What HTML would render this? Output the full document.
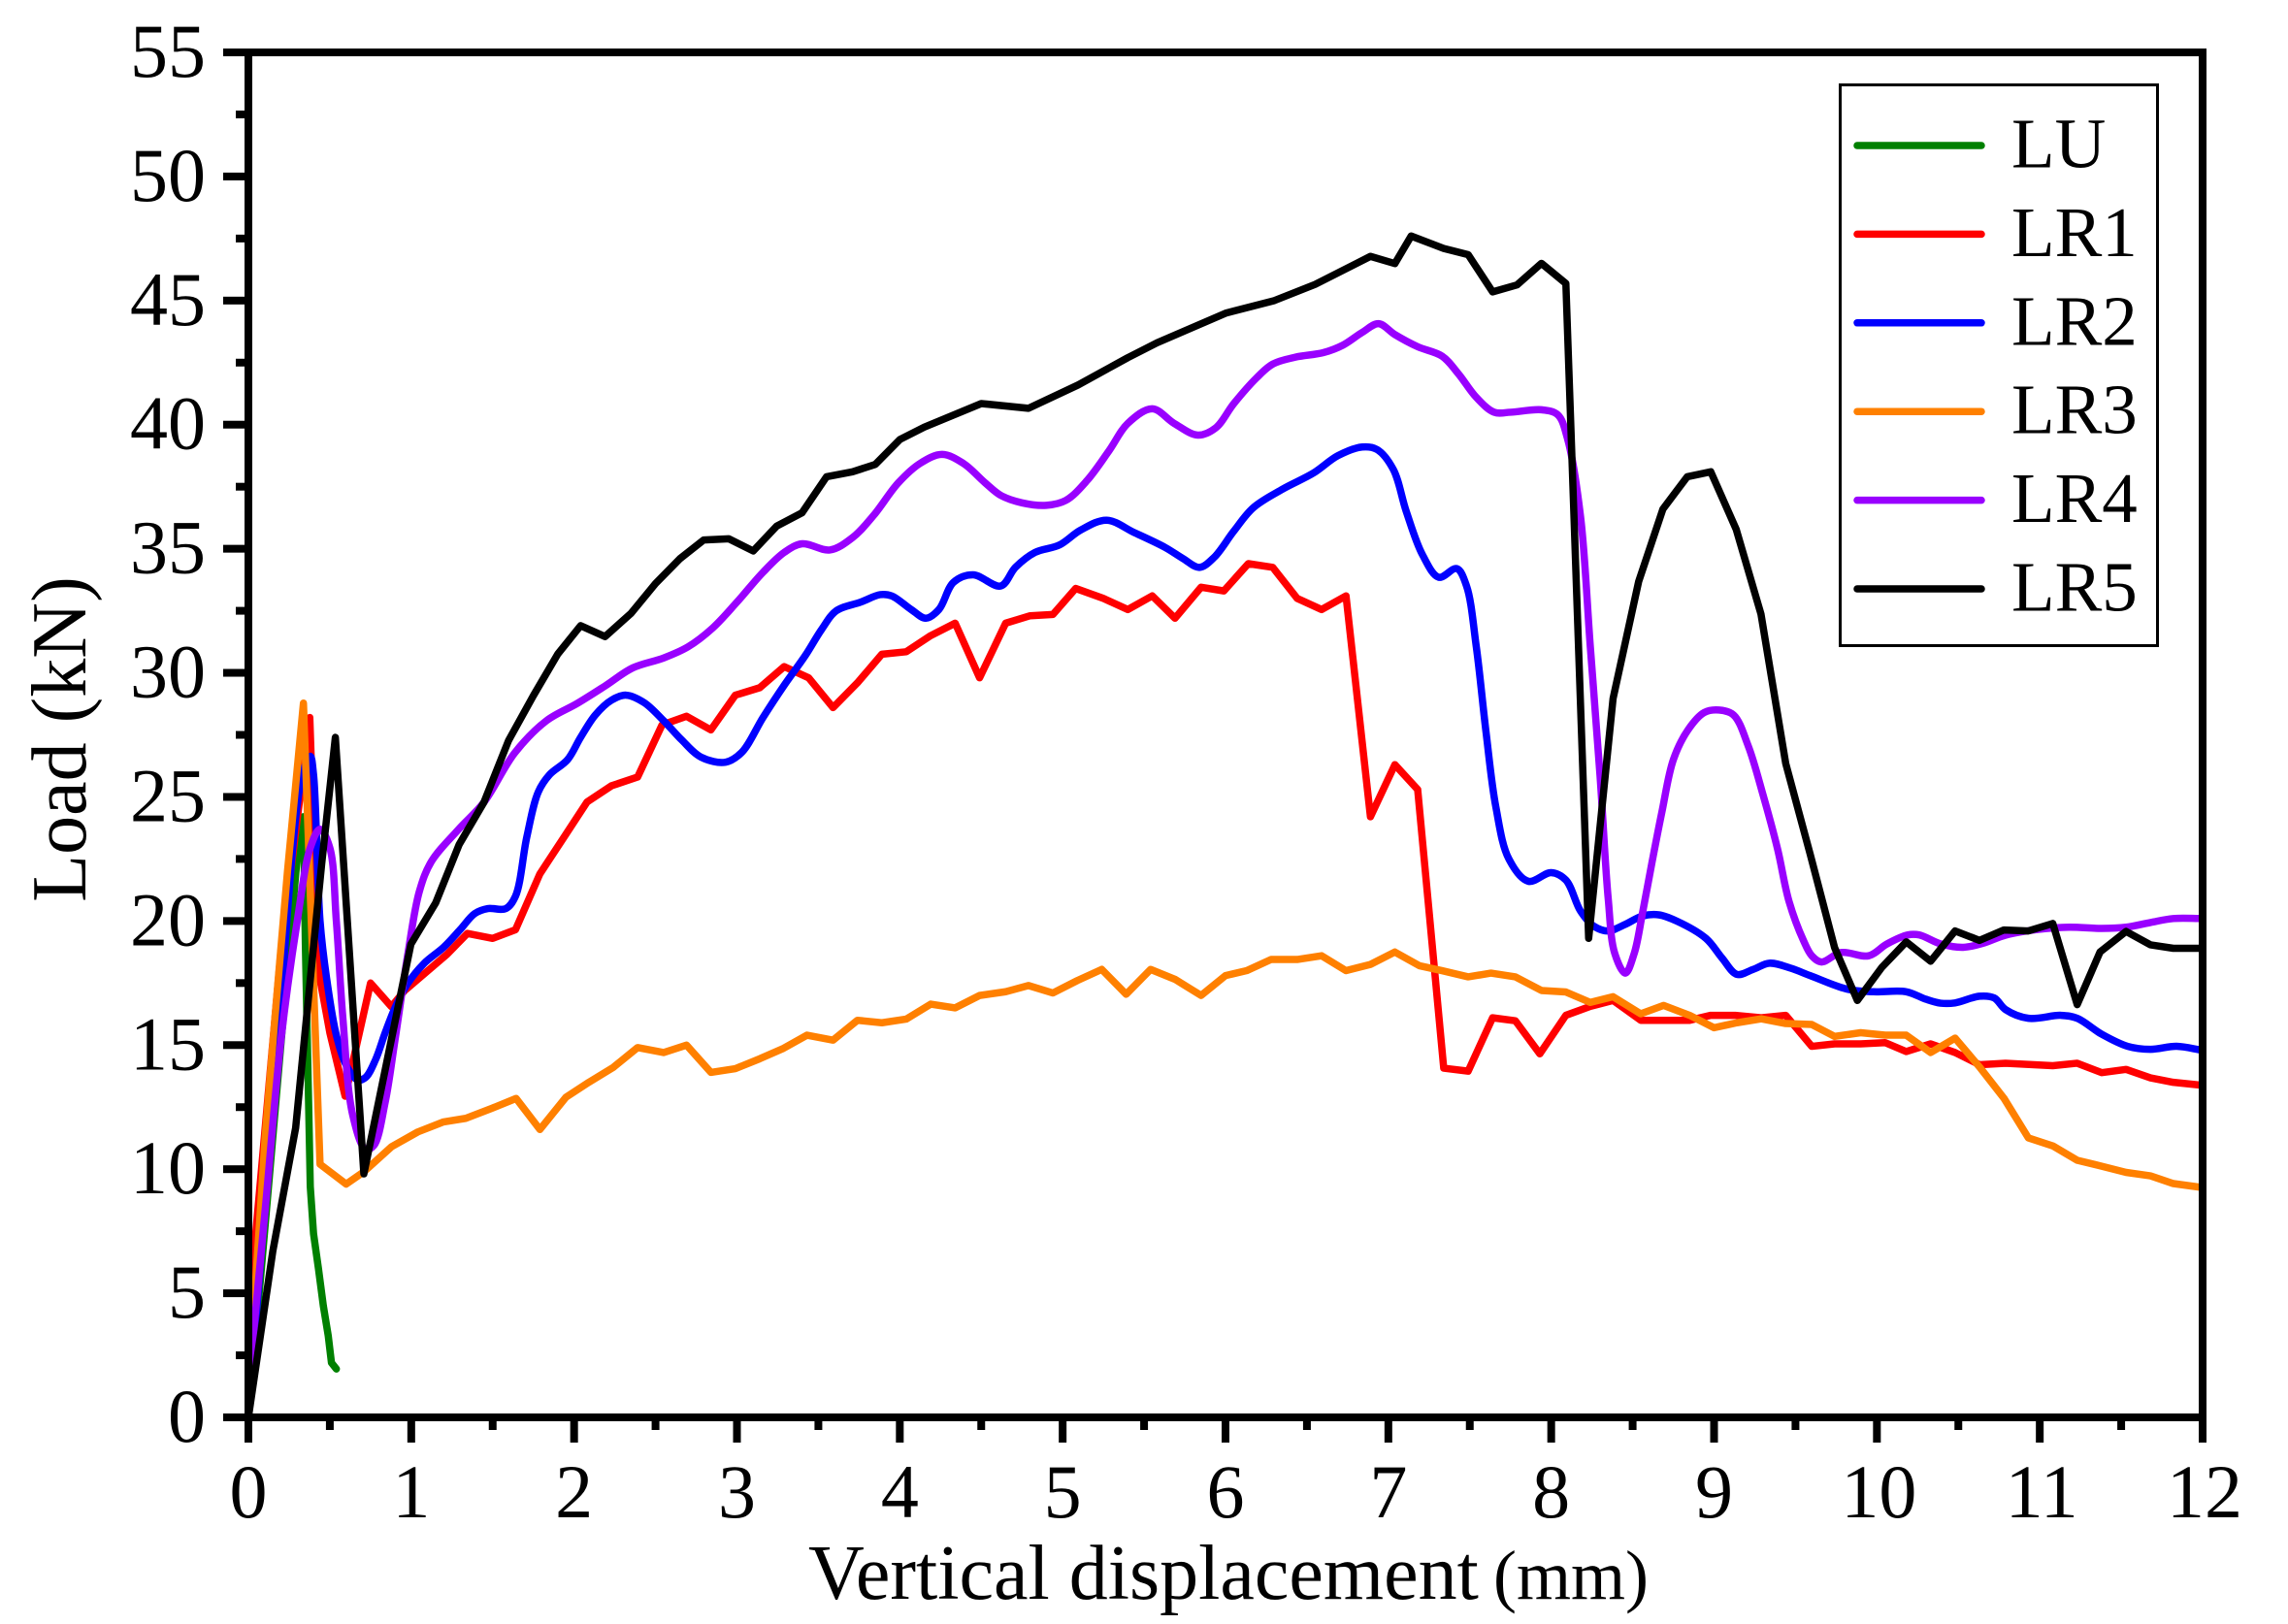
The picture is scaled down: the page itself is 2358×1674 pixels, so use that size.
<!DOCTYPE html>
<html lang="en">
<head>
<meta charset="utf-8">
<title>Load vs vertical displacement</title>
<style>
html,body{margin:0;padding:0;background:#fff;}
svg{display:block;}
text{font-family:"Liberation Serif",serif;fill:#000;}
</style>
</head>
<body>
<svg id="chart" xmlns="http://www.w3.org/2000/svg" width="2358" height="1674" viewBox="0 0 2358 1674">
  <rect x="0" y="0" width="2358" height="1674" fill="#fff"/>
  <g id="series"></g>
  <g id="axes"></g>
  <text y="1648" font-size="80"><tspan x="833">Vertical displacement</tspan><tspan x="1539" font-size="72">(mm)</tspan></text>
  <text transform="translate(88,762) rotate(-90)" text-anchor="middle" font-size="80">Load (kN)</text>
  <g id="legend">
    <rect x="1896.5" y="87.5" width="327" height="578" fill="#fff" stroke="#000" stroke-width="3"/>
  </g>
</svg>
<script>
var xTickLabels = ["0","1","2","3","4","5","6","7","8","9","10","11","12"];
var yTickLabels = ["0","5","10","15","20","25","30","35","40","45","50","55"];
var xMax = 12;
var yMax = 55;

var luX = [0,0.30,0.338,0.35,0.365,0.38,0.40,0.43,0.46,0.49,0.51,0.54];
var luY = [0,22.6,24.2,19,14.2,9.3,7.4,6,4.5,3.3,2.2,1.95];

var lr1X = [0,0.004,0.094,0.20,0.377,0.43,0.50,0.594,0.75,0.878,0.96,1.22,1.345,1.50,1.64,1.79,1.94,2.08,2.23,2.39,2.54,2.69,2.84,2.99,3.14,3.29,3.44,3.59,3.74,3.89,4.04,4.19,4.34,4.49,4.65,4.80,4.94,5.08,5.25,5.40,5.55,5.69,5.85,5.99,6.14,6.29,6.44,6.59,6.74,6.89,7.04,7.18,7.34,7.49,7.64,7.78,7.93,8.09,8.24,8.38,8.55,8.70,8.85,8.98,9.13,9.29,9.44,9.60,9.74,9.90,10.05,10.18,10.33,10.48,10.63,10.79,11.08,11.23,11.38,11.53,11.68,11.82,12];
var lr1Y = [0,4.4,11,18.8,28.2,18,15.5,12.94,17.5,16.55,17.2,18.66,19.5,19.3,19.65,21.9,23.4,24.8,25.45,25.8,27.9,28.25,27.7,29.1,29.4,30.25,29.8,28.6,29.6,30.75,30.85,31.5,32.0,29.8,32.0,32.3,32.35,33.4,33.0,32.55,33.1,32.2,33.45,33.3,34.4,34.25,33.0,32.55,33.1,24.2,26.3,25.3,14.07,13.95,16.1,15.98,14.65,16.2,16.56,16.8,16.0,16.0,16.0,16.2,16.2,16.1,16.2,14.95,15.05,15.05,15.1,14.74,15.05,14.7,14.21,14.27,14.17,14.27,13.89,14.02,13.68,13.5,13.38];

var lr2X = [0,0.17,0.33,0.38,0.40,0.44,0.48,0.54,0.60,0.67,0.72,0.78,0.84,0.90,0.98,1.08,1.20,1.30,1.39,1.47,1.58,1.64,1.71,1.78,1.85,1.96,2.04,2.13,2.23,2.32,2.43,2.55,2.66,2.78,2.93,3.03,3.16,3.29,3.42,3.52,3.61,3.76,3.88,3.95,4.07,4.16,4.24,4.33,4.45,4.62,4.71,4.83,4.98,5.11,5.27,5.44,5.63,5.74,5.84,5.93,6.05,6.17,6.35,6.54,6.69,6.84,6.93,7.03,7.11,7.21,7.31,7.42,7.48,7.54,7.60,7.66,7.74,7.86,8.00,8.09,8.18,8.26,8.35,8.45,8.56,8.66,8.77,8.95,9.05,9.14,9.24,9.34,9.47,9.59,9.82,9.98,10.18,10.30,10.39,10.48,10.63,10.72,10.79,10.93,11.13,11.23,11.38,11.54,11.68,11.84,12];
var lr2Y = [0,14.2,25.86,26.64,25.9,20,17.7,15.4,14.2,13.6,13.7,14.4,15.5,16.5,17.5,18.3,18.95,19.65,20.3,20.5,20.5,21,23.4,25.2,25.9,26.5,27.4,28.3,28.9,29.1,28.8,28.07,27.3,26.6,26.4,26.8,28.2,29.5,30.7,31.75,32.5,32.85,33.15,33.1,32.55,32.2,32.55,33.65,33.95,33.5,34.25,34.85,35.15,35.75,36.15,35.65,35.05,34.6,34.25,34.65,35.7,36.65,37.4,38.05,38.75,39.1,39.0,38.2,36.5,34.75,33.85,34.2,33.5,31.05,27.6,24.6,22.5,21.6,21.95,21.65,20.4,19.8,19.6,19.85,20.2,20.25,20,19.3,18.5,17.85,18.05,18.3,18.1,17.8,17.25,17.15,17.15,16.85,16.69,16.7,16.97,16.9,16.43,16.08,16.2,16.08,15.44,14.95,14.83,14.95,14.79];

var lr3X = [0,0.02,0.103,0.163,0.24,0.338,0.44,0.60,0.71,0.878,1.04,1.195,1.335,1.494,1.644,1.79,1.95,2.09,2.24,2.39,2.55,2.69,2.84,2.99,3.14,3.28,3.43,3.59,3.74,3.89,4.04,4.19,4.34,4.49,4.65,4.79,4.94,5.09,5.24,5.39,5.54,5.69,5.85,6.0,6.13,6.28,6.44,6.59,6.74,6.89,7.04,7.19,7.33,7.49,7.63,7.78,7.94,8.09,8.24,8.38,8.55,8.69,8.85,9.0,9.14,9.29,9.44,9.6,9.74,9.9,10.05,10.18,10.33,10.48,10.63,10.78,10.93,11.08,11.23,11.38,11.53,11.68,11.82,12];
var lr3Y = [0,3,11.3,16.1,22,28.78,10.2,9.4,9.9,10.9,11.5,11.9,12.05,12.45,12.85,11.6,12.9,13.5,14.1,14.9,14.7,15.0,13.9,14.05,14.45,14.85,15.4,15.2,16,15.9,16.05,16.65,16.5,17,17.15,17.4,17.1,17.6,18.05,17.05,18.05,17.65,17.0,17.8,18,18.45,18.45,18.6,18,18.25,18.75,18.2,18,17.75,17.9,17.75,17.2,17.14,16.72,16.95,16.26,16.6,16.2,15.7,15.9,16.06,15.87,15.83,15.35,15.5,15.4,15.4,14.7,15.28,14.12,12.86,11.26,10.94,10.36,10.12,9.87,9.73,9.42,9.26];

var lr4X = [0,0.103,0.20,0.30,0.38,0.44,0.50,0.54,0.58,0.64,0.72,0.77,0.84,0.90,0.98,1.05,1.124,1.29,1.446,1.636,1.83,2.02,2.19,2.36,2.55,2.70,2.85,3.0,3.16,3.29,3.40,3.57,3.71,3.84,3.99,4.125,4.26,4.39,4.525,4.62,4.75,4.90,5.02,5.15,5.285,5.40,5.55,5.685,5.83,5.94,6.05,6.19,6.29,6.43,6.60,6.72,6.84,6.94,7.04,7.18,7.33,7.43,7.54,7.65,7.75,7.94,8.04,8.10,8.18,8.24,8.30,8.35,8.39,8.455,8.51,8.56,8.62,8.68,8.75,8.84,8.94,9.03,9.12,9.21,9.30,9.39,9.46,9.55,9.60,9.66,9.78,9.95,10.06,10.19,10.26,10.39,10.53,10.65,10.79,10.99,11.18,11.38,11.53,11.68,11.82,12];
var lr4Y = [1.2,8.36,15.2,20.0,22.95,23.7,22.95,20,16.1,12.2,10.8,10.95,12.7,15.2,18.7,21.2,22.4,23.69,24.78,26.78,28.07,28.77,29.47,30.2,30.6,31.05,31.8,32.85,34.05,34.85,35.2,34.95,35.45,36.35,37.65,38.44,38.8,38.44,37.65,37.15,36.85,36.75,36.95,37.75,38.95,40.05,40.64,40.05,39.58,39.87,40.84,41.88,42.44,42.72,42.9,43.2,43.72,44.07,43.63,43.14,42.76,42.05,41.1,40.5,40.5,40.6,40.4,39.44,36.3,31.06,25.84,20.9,18.7,17.9,18.7,20.3,22.4,24.4,26.5,27.7,28.4,28.5,28.3,27.05,25.1,22.9,20.8,19.2,18.6,18.35,18.73,18.6,19.07,19.44,19.44,19.08,18.94,19.1,19.43,19.66,19.75,19.7,19.75,19.94,20.1,20.1];

var lr5X = [0,0.15,0.29,0.45,0.534,0.709,0.998,1.15,1.294,1.446,1.598,1.75,1.90,2.04,2.19,2.35,2.50,2.65,2.795,2.95,3.10,3.244,3.40,3.55,3.71,3.85,4.0,4.15,4.50,4.79,5.095,5.40,5.58,6.005,6.30,6.55,6.89,7.04,7.14,7.34,7.49,7.64,7.79,7.94,8.09,8.23,8.38,8.537,8.686,8.835,8.98,9.136,9.288,9.44,9.59,9.74,9.88,10.03,10.18,10.33,10.48,10.63,10.78,10.93,11.08,11.23,11.37,11.53,11.68,11.82,12];
var lr5Y = [0,6.7,11.66,22.3,27.4,9.81,19.07,20.73,23.08,24.78,27.28,29.08,30.76,31.9,31.46,32.4,33.6,34.6,35.35,35.4,34.91,35.91,36.45,37.90,38.1,38.4,39.4,39.9,40.85,40.66,41.6,42.7,43.3,44.5,45.0,45.65,46.78,46.49,47.6,47.1,46.85,45.35,45.63,46.5,45.69,19.3,28.97,33.68,36.6,37.9,38.1,35.78,32.37,26.35,22.7,18.93,16.8,18.13,19.16,18.38,19.6,19.22,19.64,19.6,19.9,16.63,18.75,19.58,19.04,18.9,18.9];

var seriesNames = ["LU","LR1","LR2","LR3","LR4","LR5"];
var seriesColors = ["#008000","#ff0000","#0000ff","#ff8000","#9900ff","#000000"];
var seriesXs = [luX,lr1X,lr2X,lr3X,lr4X,lr5X];
var seriesYs = [luY,lr1Y,lr2Y,lr3Y,lr4Y,lr5Y];
var seriesSmooth = [false,false,true,false,true,false];

var NS = "http://www.w3.org/2000/svg";
var plotLeft = 256, plotRight = 2270, plotTop = 54, plotBottom = 1461;
function xScale(v){ return plotLeft + v / xMax * (plotRight - plotLeft); }
function yScale(v){ return plotBottom - v / yMax * (plotBottom - plotTop); }
function mk(tag, parent){ var e = document.createElementNS(NS, tag); parent.appendChild(e); return e; }
function fmt(n){ return n.toFixed(2); }

function pathFor(xs, ys, smooth){
  var pts = xs.map(function(x, i){ return [xScale(x), yScale(ys[i])]; });
  var d = "M" + fmt(pts[0][0]) + " " + fmt(pts[0][1]);
  if (!smooth){
    for (var j = 1; j < pts.length; j++) d += "L" + fmt(pts[j][0]) + " " + fmt(pts[j][1]);
    return d;
  }
  function dist(a, b){ return Math.max(Math.sqrt(Math.hypot(a[0] - b[0], a[1] - b[1])), 0.01); }
  function tangent(i){
    var a = pts[Math.max(0, i - 1)], c = pts[Math.min(pts.length - 1, i + 1)], b = pts[i];
    if (i === 0) { var d0 = dist(b, c); return [(c[0] - b[0]) / d0, (c[1] - b[1]) / d0]; }
    if (i === pts.length - 1) { var d1 = dist(a, b); return [(b[0] - a[0]) / d1, (b[1] - a[1]) / d1]; }
    var d01 = dist(a, b), d12 = dist(b, c);
    return [
      (b[0] - a[0]) / d01 - (c[0] - a[0]) / (d01 + d12) + (c[0] - b[0]) / d12,
      (b[1] - a[1]) / d01 - (c[1] - a[1]) / (d01 + d12) + (c[1] - b[1]) / d12
    ];
  }
  for (var i = 1; i < pts.length; i++){
    var p1 = pts[i - 1], p2 = pts[i], h = dist(p1, p2);
    var t1 = tangent(i - 1), t2 = tangent(i);
    d += "C" + fmt(p1[0] + t1[0] * h / 3) + " " + fmt(p1[1] + t1[1] * h / 3) + " " +
         fmt(p2[0] - t2[0] * h / 3) + " " + fmt(p2[1] - t2[1] * h / 3) + " " +
         fmt(p2[0]) + " " + fmt(p2[1]);
  }
  return d;
}

var seriesGroup = document.getElementById("series");
seriesNames.forEach(function(name, i){
  var p = mk("path", seriesGroup);
  
  
  p.setAttribute("d", pathFor(seriesXs[i], seriesYs[i], seriesSmooth[i]));
  p.setAttribute("fill", "none");
  p.setAttribute("stroke", seriesColors[i]);
  p.setAttribute("stroke-width", "7.5");
  p.setAttribute("stroke-linejoin", "round");
  p.setAttribute("stroke-linecap", "round");
});

var axesGroup = document.getElementById("axes");
function bar(x, y, w, h, name){
  var r = mk("rect", axesGroup);
  
  
  r.setAttribute("x", x); r.setAttribute("y", y);
  r.setAttribute("width", w); r.setAttribute("height", h);
  r.setAttribute("fill", "#000");
}
bar(252, 50, 8, 1415, "y-axis-line");
bar(2266, 50, 8, 1415, "right-border-line");
bar(252, 50, 2022, 8, "top-border-line");
bar(252, 1457, 2022, 8, "x-axis-line");

for (var xi = 0; xi <= xMax * 2; xi++){
  var xv = xi / 2, isMajorX = xi % 2 === 0;
  bar(xScale(xv) - 4, 1465, 8, isMajorX ? 22 : 9, isMajorX ? "x-major-tick" : "x-minor-tick");
}
for (var yi = 0; yi <= yMax / 2.5; yi++){
  var yv = yi * 2.5, isMajorY = yi % 2 === 0;
  bar(isMajorY ? 230 : 243, yScale(yv) - 4, isMajorY ? 22 : 9, 8, isMajorY ? "y-major-tick" : "y-minor-tick");
}

xTickLabels.forEach(function(label){
  var t = mk("text", axesGroup);
  
  
  t.setAttribute("x", xScale(parseFloat(label)) + (label.length > 1 ? 2 : 0));
  t.setAttribute("y", 1564);
  t.setAttribute("text-anchor", "middle");
  t.setAttribute("font-size", "78");
  t.textContent = label;
});
yTickLabels.forEach(function(label){
  var t = mk("text", axesGroup);
  
  
  t.setAttribute("x", 212);
  t.setAttribute("y", yScale(parseFloat(label)) + 25);
  t.setAttribute("text-anchor", "end");
  t.setAttribute("font-size", "78");
  t.textContent = label;
});

var legendGroup = document.getElementById("legend");
seriesNames.forEach(function(name, i){
  var ly = 150 + i * 91.4;
  var l = mk("line", legendGroup);
  
  
  l.setAttribute("x1", 1914); l.setAttribute("x2", 2042);
  l.setAttribute("y1", ly); l.setAttribute("y2", ly);
  l.setAttribute("stroke", seriesColors[i]);
  l.setAttribute("stroke-width", "7.5");
  l.setAttribute("stroke-linecap", "round");
  var t = mk("text", legendGroup);
  
  
  t.setAttribute("x", 2073);
  t.setAttribute("y", ly + 22.5);
  t.setAttribute("font-size", "73");
  t.textContent = name;
});
</script>
</body>
</html>
